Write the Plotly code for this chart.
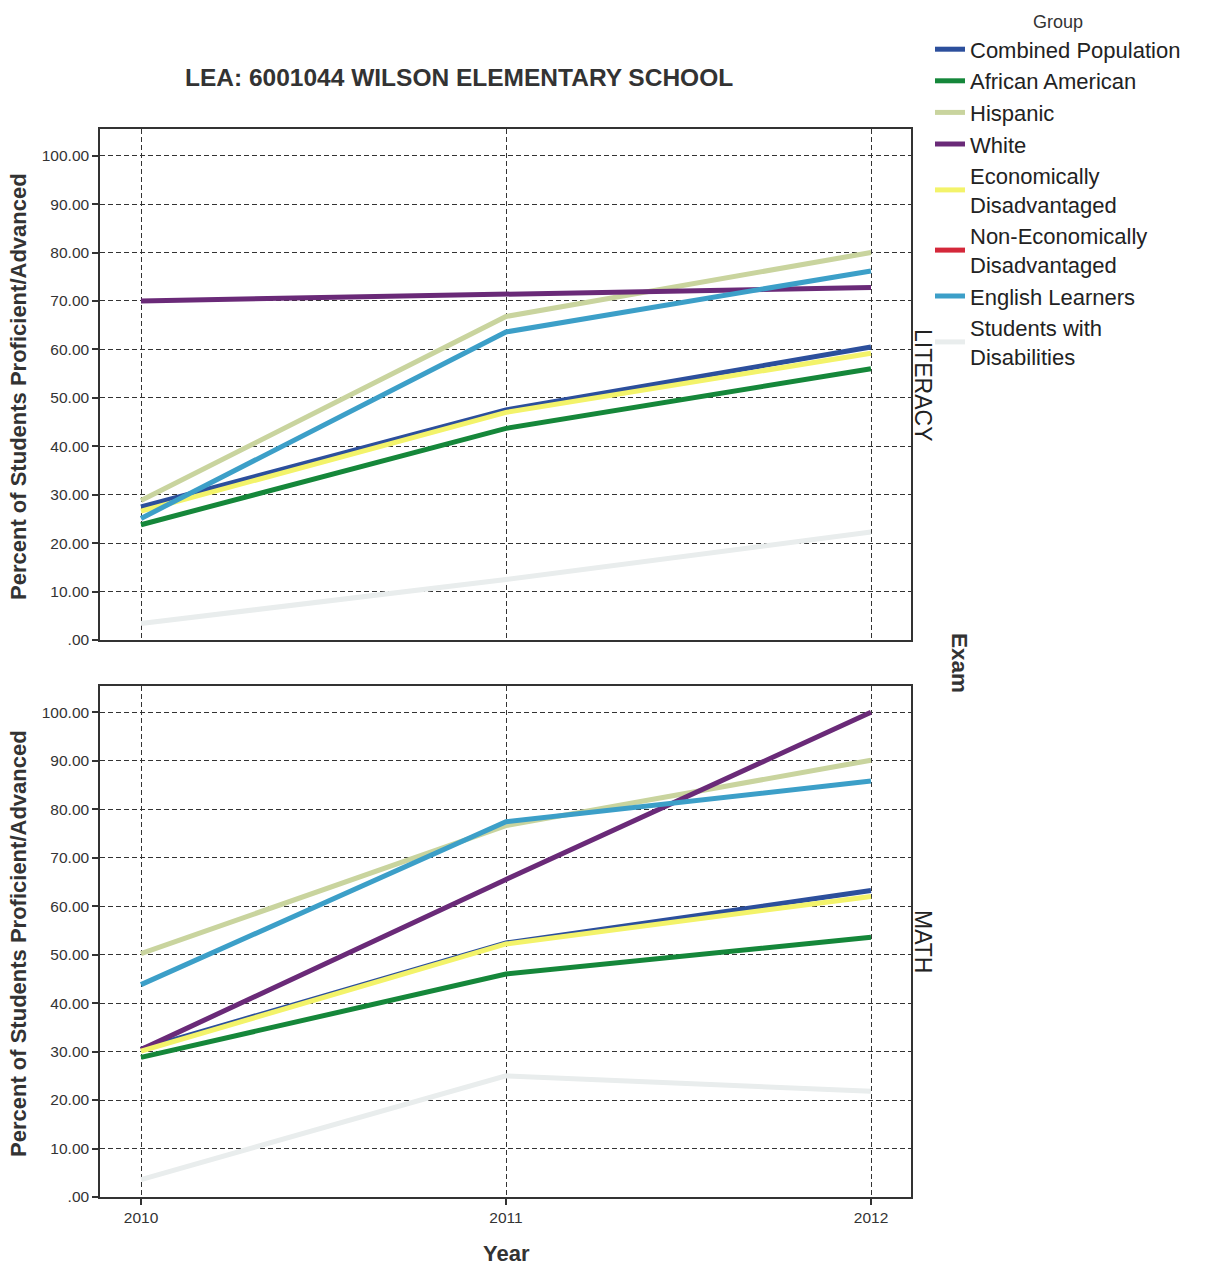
import plotly.graph_objects as go

years = [2010, 2011, 2012]
groups = ["Combined Population", "African American", "Hispanic", "White",
          "Economically<br>Disadvantaged", "Non-Economically<br>Disadvantaged",
          "English Learners", "Students with<br>Disabilities"]
colors = ["#2c4f9c", "#15873a", "#c9d49e", "#6a2a78", "#f3f36a", "#d4283a", "#3c9fc8", "#e9eded"]

literacy = {
    "Combined Population": [27.5, 47.5, 60.5],
    "African American": [23.8, 43.7, 56.0],
    "Hispanic": [28.8, 66.8, 80.0],
    "White": [70.0, 71.5, 72.8],
    "Economically<br>Disadvantaged": [26.6, 47.0, 59.2],
    "Non-Economically<br>Disadvantaged": [None, None, None],
    "English Learners": [25.1, 63.6, 76.2],
    "Students with<br>Disabilities": [3.4, 12.5, 22.3],
}
math = {
    "Combined Population": [30.5, 52.4, 63.2],
    "African American": [28.8, 46.0, 53.6],
    "Hispanic": [50.2, 76.6, 90.1],
    "White": [30.4, 65.5, 100.0],
    "Economically<br>Disadvantaged": [30.1, 52.2, 62.0],
    "Non-Economically<br>Disadvantaged": [None, None, None],
    "English Learners": [43.8, 77.4, 85.8],
    "Students with<br>Disabilities": [3.6, 25.0, 21.8],
}

ytick_vals = [0, 10, 20, 30, 40, 50, 60, 70, 80, 90, 100]
ytick_text = [".00", "10.00", "20.00", "30.00", "40.00", "50.00", "60.00", "70.00", "80.00", "90.00", "100.00"]

FONT = "Liberation Sans, Arial, sans-serif"
fig = go.Figure()

for g, c in zip(groups, colors):
    fig.add_trace(go.Scatter(x=years, y=literacy[g], mode="lines", name=g,
                             line=dict(color=c, width=5), legendgroup=g,
                             showlegend=True, xaxis="x2", yaxis="y2"))
    fig.add_trace(go.Scatter(x=years, y=math[g], mode="lines", name=g,
                             line=dict(color=c, width=5), legendgroup=g,
                             showlegend=False, xaxis="x", yaxis="y"))

H = 1068.0
axis_common = dict(
    showline=True, mirror=True, linecolor="#333333", linewidth=1.5,
    showgrid=True, gridcolor="#333333", gridwidth=1, griddash="5px,3px",
    zeroline=False, tickcolor="#333333", tickwidth=2, ticklen=6,
    tickfont=dict(family=FONT, size=15.5, color="#333333"),
)
xr = [2010 - 41 / 365.0, 2012 + 40 / 365.0]

fig.update_layout(
    width=1220, height=1268,
    paper_bgcolor="white", plot_bgcolor="white",
    margin=dict(l=100, r=309, t=129, b=71),
    font=dict(family=FONT, color="#333333"),
    xaxis=dict(domain=[0, 1], range=xr, tickvals=years, ticktext=[str(y) for y in years],
               anchor="y", ticks="outside", **axis_common),
    xaxis2=dict(domain=[0, 1], range=xr, tickvals=years, showticklabels=False, ticks="",
                anchor="y2", matches="x", **axis_common),
    yaxis=dict(domain=[0, 511 / H], range=[0, 105.4], tickvals=ytick_vals, ticktext=ytick_text,
               anchor="x", ticks="outside", **axis_common),
    yaxis2=dict(domain=[557 / H, 1], range=[0, 105.5], tickvals=ytick_vals, ticktext=ytick_text,
                anchor="x2", ticks="outside", **axis_common),
    legend=dict(
        xref="container", yref="container",
        x=930 / 1220.0, xanchor="left", y=1 - 5 / 1268.0, yanchor="top",
        font=dict(family=FONT, size=22, color="#222222"),
        title=dict(text="Group", side="top center", font=dict(family=FONT, size=18, color="#333333")),
        tracegroupgap=0, itemclick=False, bgcolor="rgba(0,0,0,0)",
    ),
    showlegend=True,
)

def px_x(px):
    return (px - 100) / 811.0

def px_y(py):
    return (1197 - py) / H

fig.add_annotation(text="<b>LEA: 6001044 WILSON ELEMENTARY SCHOOL</b>", xref="paper", yref="paper",
                   x=px_x(459), y=px_y(77), xanchor="center", yanchor="middle",
                   showarrow=False, font=dict(family=FONT, size=24.5, color="#333333"))
for cy in (387, 944):
    fig.add_annotation(text="<b>Percent of Students Proficient/Advanced</b>", xref="paper", yref="paper",
                       x=px_x(18), y=px_y(cy), textangle=-90, xanchor="center", yanchor="middle",
                       showarrow=False, font=dict(family=FONT, size=22, color="#333333"))
fig.add_annotation(text="<b>Year</b>", xref="paper", yref="paper",
                   x=px_x(506), y=px_y(1253), xanchor="center", yanchor="middle",
                   showarrow=False, font=dict(family=FONT, size=22, color="#333333"))
fig.add_annotation(text="LITERACY", xref="paper", yref="paper",
                   x=px_x(923), y=px_y(385), textangle=90, xanchor="center", yanchor="middle",
                   showarrow=False, font=dict(family=FONT, size=23, color="#222222"))
fig.add_annotation(text="MATH", xref="paper", yref="paper",
                   x=px_x(923), y=px_y(941), textangle=90, xanchor="center", yanchor="middle",
                   showarrow=False, font=dict(family=FONT, size=23, color="#222222"))
fig.add_annotation(text="<b>Exam</b>", xref="paper", yref="paper",
                   x=px_x(960), y=px_y(663), textangle=90, xanchor="center", yanchor="middle",
                   showarrow=False, font=dict(family=FONT, size=22.5, color="#333333"))

fig.write_html("out.html", config={"displayModeBar": False},
               post_script="document.body.style.margin='0';")
